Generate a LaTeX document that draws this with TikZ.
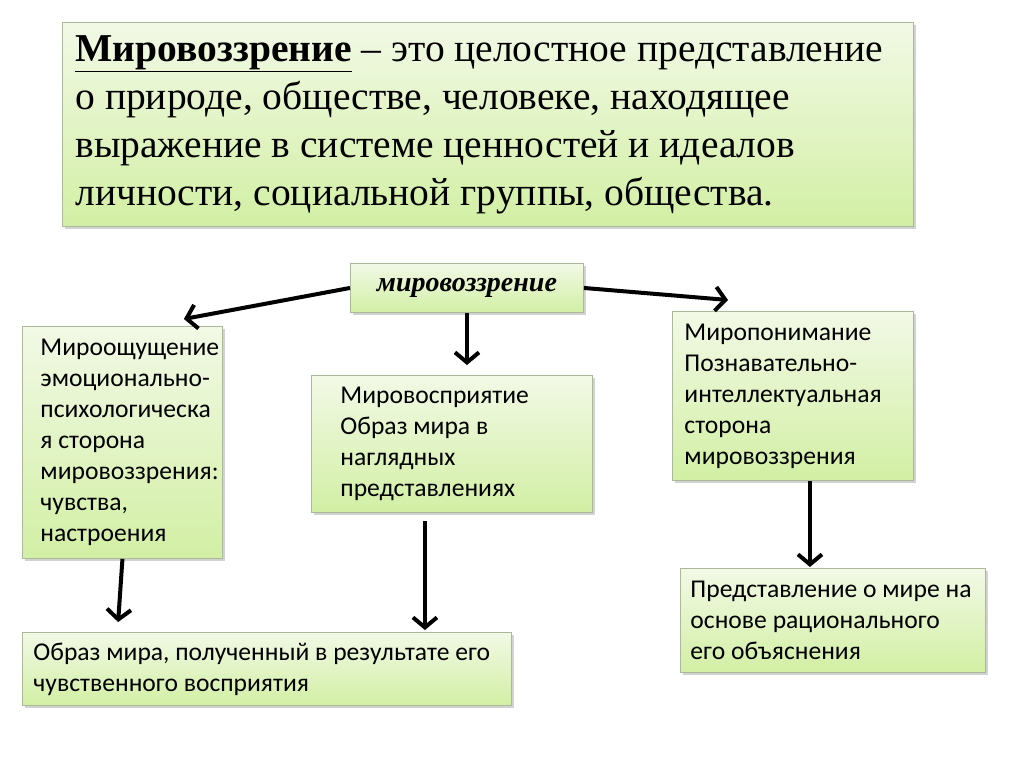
\documentclass[tikz,border=0pt]{standalone}
\usepackage{fontspec}
\setmainfont{Liberation Serif}
\newfontfamily\bodyfont{Carlito}
\usetikzlibrary{positioning, arrows.meta, calc, shadows}

\definecolor{boxlight}{HTML}{F2F9E6}
\definecolor{boxdark}{HTML}{D2EFA4}
\definecolor{boxline}{HTML}{ABB89A}

\begin{document}
\begin{tikzpicture}[
    x=1pt, y=1pt,
    box/.style={draw=boxline, line width=0.9pt, top color=boxlight, bottom color=boxdark,
        drop shadow={shadow xshift=2.5pt, shadow yshift=-3pt, opacity=0.35},
        anchor=north west, align=flush left, inner ysep=0pt,
        execute at begin node={\exhyphenpenalty=10000 \hyphenpenalty=10000}},
    body/.style={font=\bodyfont\fontsize{25.6}{31}\selectfont},
    heading/.style={font=\fontsize{39.5}{48}\selectfont},
    link/.style={line width=4pt, -{Straight Barb[length=10pt, width=24pt]}},
]
\useasboundingbox[fill=white] (0,0) rectangle (1024,-767);

% --- definition ---
\node[box, heading, minimum width=851, minimum height=204, inner xsep=13, text width=825] (def) at (62,-22)
    {\underline{\textbf{Мировоззрение}} – это целостное представление\\
     о природе, обществе, человеке, находящее\\
     выражение в системе ценностей и идеалов\\
     личности, социальной группы, общества.};

% --- centre ---
\node[box, minimum width=233, minimum height=49, align=center,
      font=\bfseries\itshape\fontsize{28}{31}\selectfont] (wv) at (350,-263) {мировоззрение};

% --- three sides ---
\node[box, body, minimum width=200, minimum height=232, inner xsep=18, text width=164] (feel) at (22,-326)
    {Мироощущение\\ эмоционально-\\ психологическа\\ я сторона\\ мировоззрения:\\ чувства,\\ настроения};
\node[box, body, minimum width=281, minimum height=137, inner xsep=29, text width=223] (see) at (311,-375)
    {Мировосприятие\\ Образ мира в\\ наглядных\\ представлениях};
\node[box, body, minimum width=241, minimum height=169, inner xsep=12, text width=217] (know) at (672,-311)
    {Миропонимание\\ Познавательно-\\ интеллектуальная\\ сторона\\ мировоззрения};

% --- results ---
\node[box, body, minimum width=489, minimum height=73, inner xsep=11, text width=467] (img) at (22,-632)
    {Образ мира, полученный в результате его\\ чувственного восприятия};
\node[box, body, minimum width=305, minimum height=104, inner xsep=10, text width=285] (rat) at (680,-568)
    {Представление о мире на\\ основе рационального\\ его объяснения};

% --- arrows ---
\draw[link] (wv.west) -- ([xshift=-39pt, yshift=7pt]feel.north east);
\draw[link] (wv.east) -- ([xshift=56pt, yshift=11pt]know.north west);
\draw[link, shorten >=10pt] (wv.south) -- (wv.south |- see.north);
\draw[link, shorten >=10pt] (feel.south) -- ([xshift=-5pt]feel.south |- img.north);
\draw[link, shorten <=8pt, shorten >=2pt] ([xshift=-27pt]see.south) -- ([xshift=-27pt]see.south |- img.north);
\draw[link, shorten >=1pt] ([xshift=17pt]know.south) -- ([xshift=17pt]know.south |- rat.north);

\end{tikzpicture}
\end{document}
